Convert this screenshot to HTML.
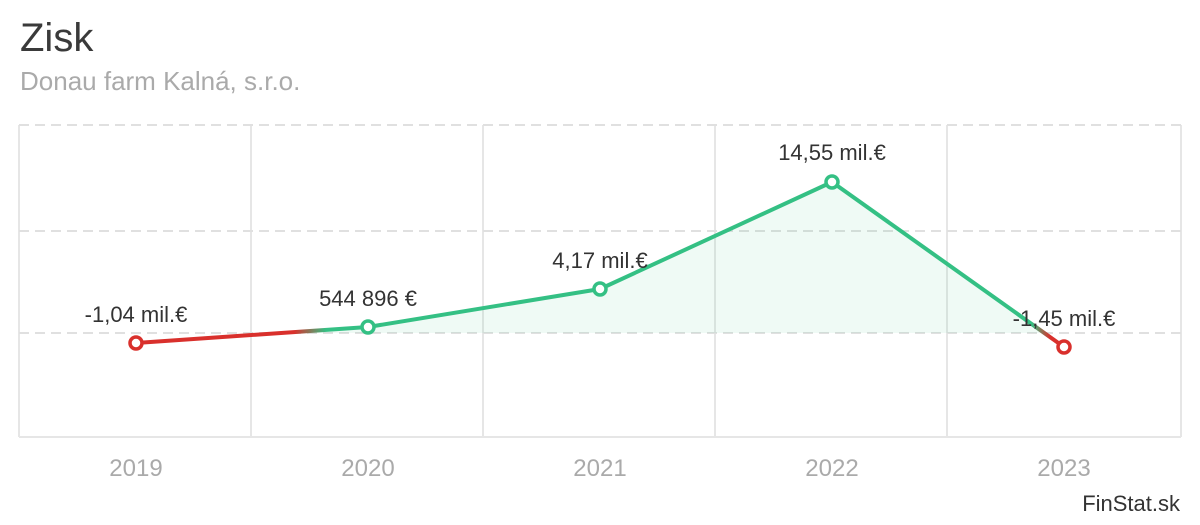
<!DOCTYPE html>
<html><head><meta charset="utf-8"><style>
body{margin:0;background:#fff;width:1200px;height:520px;overflow:hidden;font-family:"Liberation Sans",sans-serif}
</style></head><body>
<svg width="1200" height="520" xmlns="http://www.w3.org/2000/svg" font-family="Liberation Sans, sans-serif">
<defs>
<linearGradient id="g" gradientUnits="userSpaceOnUse" x1="136" y1="0" x2="1064" y2="0">
<stop offset="0" stop-color="#d9302c"/>
<stop offset="0.17" stop-color="#d9302c"/>
<stop offset="0.205" stop-color="#34c084"/>
<stop offset="0.965" stop-color="#34c084"/>
<stop offset="0.985" stop-color="#d9302c"/>
<stop offset="1" stop-color="#d9302c"/>
</linearGradient>
</defs>
<text x="20" y="51" font-size="40" fill="#3a3a3a">Zisk</text>
<text x="20" y="90" font-size="26" fill="#aaa">Donau farm Kalná, s.r.o.</text>
<g stroke="#e6e6e6" stroke-width="2">
<line x1="19" y1="125" x2="19" y2="437"/><line x1="251" y1="125" x2="251" y2="437"/>
<line x1="483" y1="125" x2="483" y2="437"/><line x1="715" y1="125" x2="715" y2="437"/>
<line x1="947" y1="125" x2="947" y2="437"/><line x1="1181" y1="125" x2="1181" y2="437"/>
<line x1="19" y1="437" x2="1181" y2="437"/>
</g>
<g stroke="#e0e0e0" stroke-width="2" stroke-dasharray="10,6">
<line x1="19" y1="125" x2="1181" y2="125"/><line x1="19" y1="231" x2="1181" y2="231"/><line x1="19" y1="333" x2="1181" y2="333"/>
</g>
<polygon points="310,333 368,327 600,289 832,182 1046,333" fill="#34c084" fill-opacity="0.08"/>
<polyline points="136,343 368,327 600,289 832,182 1064,347" fill="none" stroke="url(#g)" stroke-width="4" stroke-linejoin="round"/>
<g stroke-width="3.5" fill="#fff">
<circle cx="136" cy="343" r="6" stroke="#d9302c"/>
<circle cx="368" cy="327" r="6" stroke="#34c084"/>
<circle cx="600" cy="289" r="6" stroke="#34c084"/>
<circle cx="832" cy="182" r="6" stroke="#34c084"/>
<circle cx="1064" cy="347" r="6" stroke="#d9302c"/>
</g>
<g font-size="22" fill="#333" text-anchor="middle">
<text x="136" y="322">-1,04 mil.€</text>
<text x="368" y="306">544 896 €</text>
<text x="600" y="268">4,17 mil.€</text>
<text x="832" y="160">14,55 mil.€</text>
<text x="1064" y="326">-1,45 mil.€</text>
</g>
<g font-size="24" fill="#aaa" text-anchor="middle">
<text x="136" y="476">2019</text><text x="368" y="476">2020</text><text x="600" y="476">2021</text><text x="832" y="476">2022</text><text x="1064" y="476">2023</text>
</g>
<text x="1180" y="511" font-size="22" fill="#333" text-anchor="end">FinStat.sk</text>
</svg>
</body></html>
